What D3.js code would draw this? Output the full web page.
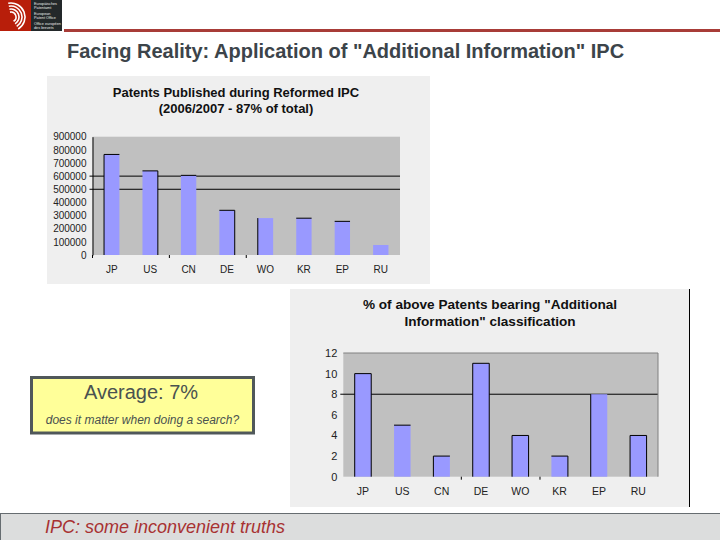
<!DOCTYPE html>
<html>
<head>
<meta charset="utf-8">
<script src="https://cdnjs.cloudflare.com/ajax/libs/d3/7.8.5/d3.min.js"></script>
<style>
   html, body { margin: 0; padding: 0; background: #fff; }
   svg { display: block; }
   text { font-family: "Liberation Sans", Arial, sans-serif; }
</style>
</head>
<body>
<div id="slide"></div>
<script>
const countries = ["JP", "US", "CN", "DE", "WO", "KR", "EP", "RU"];

const publishedValues = [765000, 640000, 606000, 340000, 281000, 280000, 256000, 76000];
const publishedTicks = [0, 100000, 200000, 300000, 400000, 500000, 600000, 700000, 800000, 900000];
const publishedTitle = ["Patents Published during Reformed IPC", "(2006/2007 - 87% of total)"];

const additionalValues = [10, 5, 2, 11, 4, 2, 8, 4];
const additionalTicks = [0, 2, 4, 6, 8, 10, 12];
const additionalTitle = ["% of above Patents bearing \"Additional", "Information\" classification"];

const slideTitle = "Facing Reality: Application of \"Additional Information\" IPC";
const logoLines = ["Europäisches", "Patentamt", "European", "Patent Office", "Office européen", "des brevets"];

const width = 720, height = 540;

const svg = d3.select("#slide").append("svg")
   .attr("width", width)
   .attr("height", height);

// header
svg.append("rect").attr("x", 0).attr("y", 0).attr("width", 31).attr("height", 31).attr("fill", "#b81e0a");
svg.append("rect").attr("x", 31).attr("y", 0).attr("width", 31).attr("height", 31).attr("fill", "#23282a");
svg.append("rect").attr("x", 64).attr("y", 29).attr("width", 656).attr("height", 3).attr("fill", "#a83c38");

// logo arcs
[5, 8, 11, 14].forEach(r => {
   svg.append("path")
      .attr("transform", "translate(11,17)")
      .attr("d", d3.arc()({ innerRadius: r - 0.8, outerRadius: r + 0.8, startAngle: -0.2, endAngle: 2.6 }))
      .attr("fill", "#fff");
});

svg.selectAll(".logoLine")
   .data(logoLines)
   .join("text")
   .attr("class", "logoLine")
   .attr("x", 34)
   .attr("y", (d, i) => 5 + i * 4.2 + (i > 1 ? 1.5 : 0) + (i > 3 ? 1.5 : 0))
   .attr("font-size", 3.8)
   .attr("fill", "#e8e8e8")
   .text(d => d);

svg.append("text")
   .attr("x", 67)
   .attr("y", 58)
   .attr("font-size", 20)
   .attr("font-weight", "bold")
   .attr("fill", "#3c444a")
   .text(slideTitle);

function barChart(opts) {
   const { panel, plot, values, ticks, max, title, titleY, gridAt, xTicks, edges, padding } = opts;

   svg.append("rect")
      .attr("x", panel.x0).attr("y", panel.y0)
      .attr("width", panel.x1 - panel.x0).attr("height", panel.y1 - panel.y0)
      .attr("fill", "#efefef");

   svg.append("rect")
      .attr("x", plot.x0).attr("y", plot.y0)
      .attr("width", plot.x1 - plot.x0).attr("height", plot.y1 - plot.y0)
      .attr("fill", "#c0c0c0");

   const x = d3.scaleBand().domain(countries).range([plot.x0, plot.x1])
      .paddingInner(padding).paddingOuter(padding / 2);
   const y = d3.scaleLinear().domain([0, max]).range([plot.y1, plot.y0]);

   // only some gridlines survive in the source picture
   svg.selectAll(null)
      .data(gridAt)
      .join("line")
      .attr("x1", plot.x0 - 3).attr("x2", plot.x1)
      .attr("y1", d => y(d)).attr("y2", d => y(d))
      .attr("stroke", "#000").attr("stroke-width", 1);

   const bars = svg.append("g");
   countries.forEach((c, i) => {
      const bx = x(c), by = y(values[i]), bw = x.bandwidth();
      bars.append("rect")
         .attr("x", bx).attr("y", by)
         .attr("width", bw).attr("height", plot.y1 - by)
         .attr("fill", "#9999ff");
      const e = edges[i];
      const edge = (x1, y1, x2, y2) => bars.append("line")
         .attr("x1", x1).attr("y1", y1).attr("x2", x2).attr("y2", y2)
         .attr("stroke", "#000").attr("stroke-width", 1);
      if (e.includes("t")) edge(bx, by, bx + bw, by);
      if (e.includes("l")) edge(bx, by, bx, plot.y1);
      if (e.includes("r")) edge(bx + bw, by, bx + bw, plot.y1);
   });

   const yAxis = svg.append("g")
      .attr("transform", `translate(${plot.x0},0)`)
      .call(d3.axisLeft(y).tickValues(ticks).tickFormat(d3.format("d")).tickSize(0).tickPadding(6));
   yAxis.select(".domain").attr("stroke", opts.yLine).attr("stroke-width", 1);
   yAxis.selectAll("text")
      .attr("font-size", opts.yFont).attr("fill", "#222")
      .style("font-family", "\"Liberation Sans\", Arial, sans-serif");

   const xAxis = svg.append("g")
      .attr("transform", `translate(0,${plot.y1})`)
      .call(d3.axisBottom(x).tickSize(0).tickPadding(opts.xPad));
   xAxis.select(".domain").remove();
   xAxis.selectAll("text")
      .attr("font-size", opts.xFont).attr("fill", "#222")
      .style("font-family", "\"Liberation Sans\", Arial, sans-serif");

   // the few remaining category separators under the plot
   svg.selectAll(null)
      .data(xTicks)
      .join("line")
      .attr("x1", d => plot.x0 + d * x.step()).attr("x2", d => plot.x0 + d * x.step())
      .attr("y1", plot.y1).attr("y2", plot.y1 + 3)
      .attr("stroke", "#000").attr("stroke-width", 1);

   svg.selectAll(null)
      .data(title)
      .join("text")
      .attr("x", opts.titleX)
      .attr("y", (d, i) => titleY + i * opts.titleGap)
      .attr("text-anchor", "middle")
      .attr("font-size", opts.titleSize)
      .attr("font-weight", "bold")
      .attr("fill", "#111")
      .text(d => d);
}

barChart({
   panel: { x0: 47, x1: 430, y0: 76, y1: 284 },
   plot: { x0: 92.5, x1: 400, y0: 136.7, y1: 255 },
   values: publishedValues,
   ticks: publishedTicks,
   max: 900000,
   title: publishedTitle,
   titleX: 236, titleY: 97, titleGap: 16.3, titleSize: 13,
   gridAt: [500000, 600000],
   xTicks: [0, 2, 4],
   edges: ["lt", "tr", "t", "tr", "l", "t", "t", ""],
   padding: 0.6,
   yLine: "#000",
   yFont: 10, xFont: 10, xPad: 11
});

barChart({
   panel: { x0: 290, x1: 689, y0: 289, y1: 507 },
   plot: { x0: 343.3, x1: 658, y0: 353, y1: 476.7 },
   values: additionalValues,
   ticks: additionalTicks,
   max: 12,
   title: additionalTitle,
   titleX: 490, titleY: 309, titleGap: 17, titleSize: 13.6,
   gridAt: [8],
   xTicks: [3, 5],
   edges: ["ltr", "t", "lt", "ltr", "ltr", "tr", "l", "ltr"],
   padding: 0.58,
   yLine: "none",
   yFont: 11, xFont: 10.5, xPad: 11
});

// plot border and the line to the right of the second panel
svg.append("path")
   .attr("d", d3.line()([[343.3, 353], [658, 353], [658, 476.7]]))
   .attr("fill", "none").attr("stroke", "#808080").attr("stroke-width", 1);
svg.append("line")
   .attr("x1", 689.5).attr("x2", 689.5).attr("y1", 289).attr("y2", 507)
   .attr("stroke", "#000").attr("stroke-width", 1);

// callout
svg.append("rect")
   .attr("x", 31.5).attr("y", 377.5).attr("width", 222).attr("height", 55.5)
   .attr("fill", "#ffff99").attr("stroke", "#50585a").attr("stroke-width", 3);
svg.append("text")
   .attr("x", 141).attr("y", 399)
   .attr("text-anchor", "middle")
   .attr("font-size", 20)
   .attr("fill", "#4a5250")
   .text("Average: 7%");
svg.append("text")
   .attr("x", 142.5).attr("y", 424)
   .attr("text-anchor", "middle")
   .attr("font-size", 12)
   .attr("font-style", "italic")
   .attr("fill", "#4a5250")
   .text("does it matter when doing a search?");

// footer
svg.append("rect")
   .attr("x", 0.5).attr("y", 513.5).attr("width", 720).attr("height", 27)
   .attr("fill", "#dcdddd").attr("stroke", "#666c70").attr("stroke-width", 1);
svg.append("text")
   .attr("x", 45).attr("y", 533)
   .attr("font-size", 18)
   .attr("font-style", "italic")
   .attr("fill", "#a83232")
   .text("IPC: some inconvenient truths");
</script>
</body>
</html>
